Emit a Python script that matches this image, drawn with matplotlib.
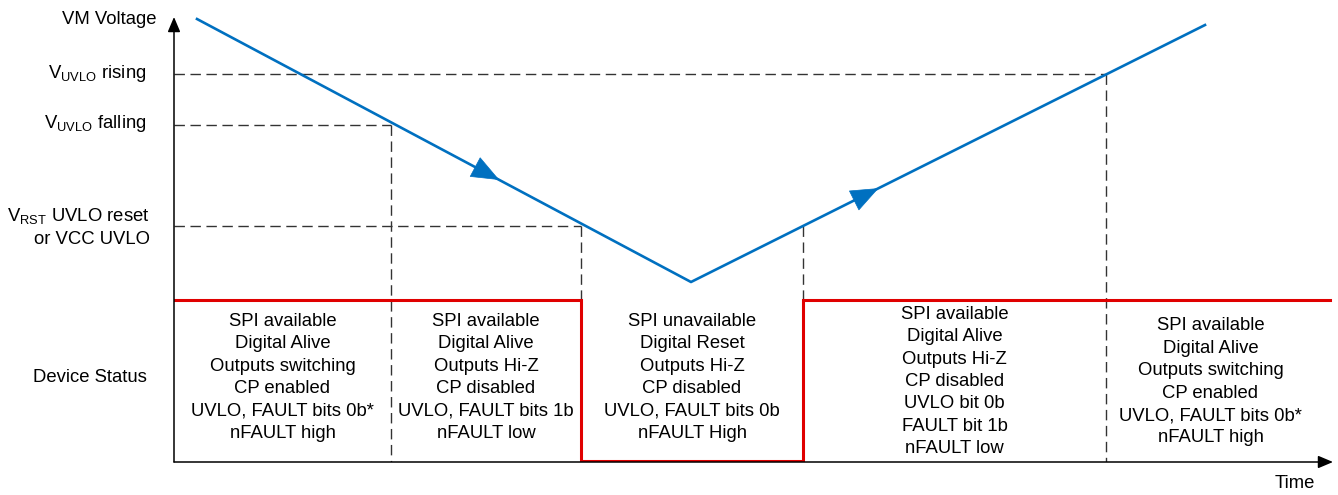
import matplotlib
matplotlib.use("Agg")
import matplotlib.pyplot as plt
import numpy as np

plt.rcParams['font.family'] = ['Liberation Sans', 'DejaVu Sans']
plt.rcParams['mathtext.fontset'] = 'custom'
plt.rcParams['mathtext.rm'] = 'Liberation Sans'
plt.rcParams['mathtext.it'] = 'Liberation Sans:italic'
plt.rcParams['mathtext.default'] = 'regular'

# ---------------- data (arbitrary time / voltage units) ----------------
vm_t = [2.3, 51.7, 103.1]          # VM voltage trace: start, minimum, end
vm_v = [44.3, 18.0, 43.7]

level_labels = [r'$V_{UVLO}$ rising', r'$V_{UVLO}$ falling',
                "$V_{RST}$ UVLO reset\nor VCC UVLO"]
level_values = [38.8, 33.7, 23.6]
level_times = [93.2, 21.7, 40.7]    # where each level's dashed line ends
extra_vline_times = [62.9]          # rising crossing of reset level
extra_vline_levels = [23.6]

status_t = [0, 40.7, 40.7, 62.9, 62.9, 115.6]
status_v = [16.2, 16.2, 0.1, 0.1, 16.2, 16.2]

boundaries = [0, 21.7, 40.7, 62.9, 93.2, 114.1]
block_texts = [
    ["SPI available", "Digital Alive", "Outputs switching", "CP enabled",
     "UVLO, FAULT bits 0b*", "nFAULT high"],
    ["SPI available", "Digital Alive", "Outputs Hi-Z", "CP disabled",
     "UVLO, FAULT bits 1b", "nFAULT low"],
    ["SPI unavailable", "Digital Reset", "Outputs Hi-Z", "CP disabled",
     "UVLO, FAULT bits 0b", "nFAULT High"],
    ["SPI available", "Digital Alive", "Outputs Hi-Z", "CP disabled",
     "UVLO bit 0b", "FAULT bit 1b", "nFAULT low"],
    ["SPI available", "Digital Alive", "Outputs switching", "CP enabled",
     "UVLO, FAULT bits 0b*", "nFAULT high"],
]
y_axis_label = "VM Voltage"
x_axis_label = "Time"
status_label = "Device Status"

# ---------------- figure ----------------
W, H = 1338, 495
fig = plt.figure(figsize=(W / 100, H / 100), dpi=100)
ax = fig.add_axes([174 / W, 33 / H, 1159 / W, 445 / H])
x_max, y_max = 115.9, 44.5
ax.set_xlim(0, x_max)
ax.set_ylim(0, y_max)
ax.axis('off')

BLUE = '#0070C0'
RED = '#E00000'
DASH = '#333333'
FS = 13.3

# axes with arrows
for xy in [(0, y_max), (x_max, 0)]:
    ax.annotate('', xy=xy, xytext=(0, 0),
                arrowprops=dict(arrowstyle='-|>,head_length=0.9,head_width=0.38',
                                lw=1.1, color='black', shrinkA=0, shrinkB=0,
                                mutation_scale=10),
                annotation_clip=False)

# dashed level lines
dash_style = (0, (7.5, 4))
for lv, tt in zip(level_values, level_times):
    ax.plot([0, tt], [lv, lv], color=DASH, lw=1.0, ls=dash_style)
    ax.plot([tt, tt], [lv, 0], color=DASH, lw=1.0, ls=dash_style)
for tt, lv in zip(extra_vline_times, extra_vline_levels):
    ax.plot([tt, tt], [lv, 0], color=DASH, lw=1.0, ls=dash_style)

# device status trace
ax.plot(status_t, status_v, color=RED, lw=2.2, solid_joinstyle='miter')

# VM voltage trace
ax.plot(vm_t, vm_v, color=BLUE, lw=1.9)

# direction arrows on VM trace
for (i, frac) in [(0, 0.612), (1, 0.365)]:
    p0 = np.array([vm_t[i], vm_v[i]])
    p1 = np.array([vm_t[i + 1], vm_v[i + 1]])
    tip = p0 + frac * (p1 - p0)
    back = p0 + (frac - 0.05) * (p1 - p0)
    ax.annotate('', xy=tuple(tip), xytext=tuple(back),
                arrowprops=dict(arrowstyle='-|>,head_length=0.95,head_width=0.38',
                                lw=0.5, color=BLUE, shrinkA=0, shrinkB=0,
                                mutation_scale=20))

# left labels
ax.text(-1.7, 44.3, y_axis_label, ha='right', va='center', fontsize=FS)
ax.text(-2.8, level_values[0], level_labels[0], ha='right', va='center', fontsize=FS)
ax.text(-2.7, level_values[1] + 0.1, level_labels[1], ha='right', va='center', fontsize=FS)
ax.text(-2.4, level_values[2] - 0.1, level_labels[2], ha='right', va='center',
        fontsize=FS, linespacing=1.35)
ax.text(-8.4, 8.45, status_label, ha='center', va='center', fontsize=FS)
ax.text(112.1, -2.2, x_axis_label, ha='center', va='center', fontsize=FS)

# status blocks
centers_v = [8.45, 8.45, 8.45, 8.05, 8.0]
spacing = 2.24
for k, lines in enumerate(block_texts):
    cx = (boundaries[k] + boundaries[k + 1]) / 2
    n = len(lines)
    for j, line in enumerate(lines):
        y = centers_v[k] + ((n - 1) / 2 - j) * spacing
        ax.text(cx, y, line, ha='center', va='center', fontsize=FS)

fig.savefig('out.png', dpi=100)
